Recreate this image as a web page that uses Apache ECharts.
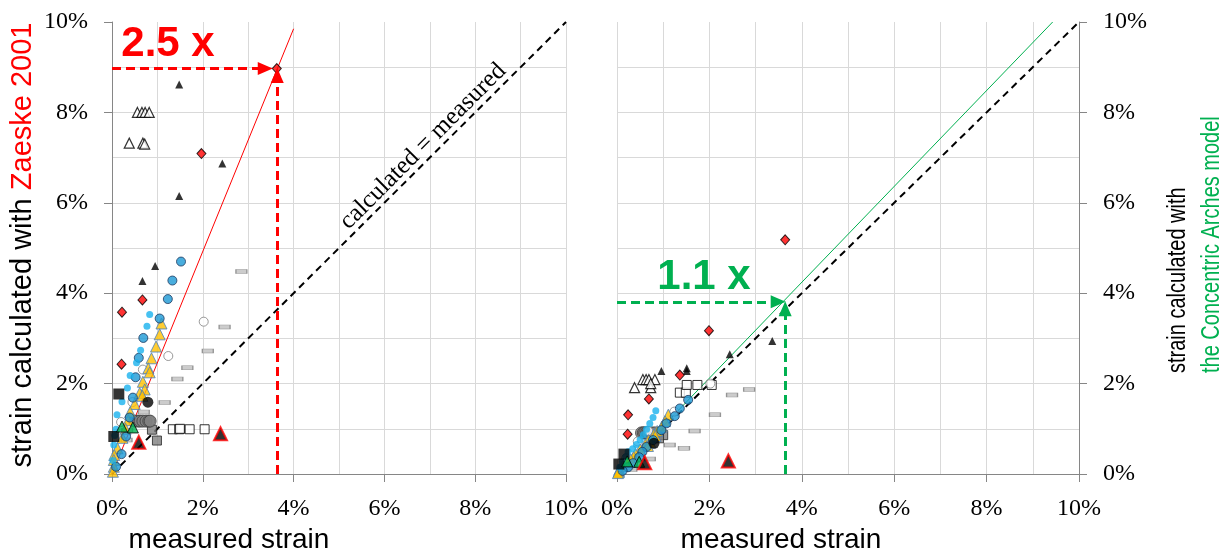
<!DOCTYPE html>
<html><head><meta charset="utf-8">
<script src="https://cdn.jsdelivr.net/npm/echarts@6/dist/echarts.min.js"></script>
<style>html,body{margin:0;padding:0;background:#fff}#c{width:1231px;height:555px}</style>
</head><body><div id="c"></div><script>
// ---------- axis ticks (percent) ----------
const axisMin = 0, axisMax = 10, tickStep = 2;
const tickLabelSuffix = '%';

// ---------- LEFT panel: Zaeske 2001 (x = measured %, y = calculated %) ----------
const zaeskeBlueCircle = [[1.52,4.70],[1.33,4.28],[1.23,3.87],[1.05,3.44],[0.69,3.01],[0.59,2.57],[0.52,2.14],[0.46,1.69],[0.39,1.25],[0.31,0.83],[0.21,0.44],[0.09,0.16]];
const zaeskeLightBlueDot = [[0.83,3.53],[0.77,3.27],[0.63,2.74],[0.54,2.46],[0.40,2.18],[0.34,1.90],[0.22,1.60],[0.11,1.31],[0.09,0.99],[0.06,0.85],[0.04,0.64],[0.02,0.30]];
const zaeskeYellowTriangle = [[1.09,3.33],[1.05,3.09],[0.97,2.82],[0.87,2.56],[0.80,2.34],[0.83,2.25],[0.68,2.04],[0.72,1.87],[0.61,1.79],[0.67,1.73],[0.50,1.55],[0.40,1.37],[0.36,1.19],[0.30,1.00],[0.23,0.80],[0.12,0.57],[0.05,0.42],[0.04,0.31],[0.04,0.16],[0.02,0.05]];
const zaeskeBlackTriangle = [[1.48,8.62],[2.43,6.87],[1.48,6.15],[0.95,4.60],[0.67,4.27]];
const zaeskeOpenTriangle = [[0.56,8.00],[0.66,8.00],[0.73,8.00],[0.82,8.00],[0.38,7.32],[0.68,7.32],[0.72,7.30]];
const zaeskeRedDiamond = [[3.63,8.97],[1.97,7.09],[0.67,3.85],[0.22,3.58],[0.21,2.43]];
const zaeskeGrayCircle = [[0.50,1.17],[0.57,1.17],[0.62,1.17],[0.68,1.17],[0.75,1.17],[0.81,1.17],[0.84,1.17]];
const zaeskeBlackCircle = [[0.79,1.59]];
const zaeskeOpenCircle = [[2.02,3.37],[1.24,2.61],[0.68,2.31],[0.45,1.59],[0.20,1.15]];
const zaeskeGrayDash = [[2.85,4.48],[2.48,3.25],[2.11,2.72],[1.66,2.35],[1.44,2.10],[1.16,1.58],[0.70,1.37],[0.33,0.97],[0.32,0.75]];
const zaeskeOpenSquare = [[1.34,0.99],[1.48,0.99],[1.50,1.00],[1.71,0.99],[2.04,0.99]];
const zaeskeGraySquare = [[0.88,0.98],[0.99,0.74]];
const zaeskeBlackSquare = [[0.15,1.77],[0.04,0.83]];
const zaeskeGreenTriangle = [[0.22,1.05],[0.46,1.03]];
const zaeskeRedBlackTriangle = [[2.39,0.89],[0.59,0.70]];

// ---------- RIGHT panel: Concentric Arches model ----------
const archesBlueCircle = [[1.54,1.64],[1.36,1.45],[1.25,1.28],[1.07,1.12],[0.96,0.97],[0.78,0.75],[0.64,0.60],[0.55,0.49],[0.48,0.37],[0.35,0.24],[0.24,0.15],[0.12,0.07]];
const archesLightBlueDot = [[0.84,1.40],[0.78,1.25],[0.71,1.12],[0.64,0.99],[0.57,0.87],[0.50,0.76],[0.42,0.65],[0.34,0.56],[0.24,0.49],[0.19,0.38],[0.12,0.27],[0.06,0.15]];
const archesYellowTriangle = [[1.11,1.31],[1.04,1.17],[0.97,1.05],[0.87,0.95],[0.80,0.88],[0.83,0.84],[0.68,0.75],[0.72,0.70],[0.61,0.66],[0.67,0.62],[0.50,0.55],[0.40,0.45],[0.36,0.38],[0.30,0.32],[0.23,0.27],[0.12,0.18],[0.05,0.10],[0.04,0.06],[0.04,0.04],[0.02,0.02]];
const archesBlackTriangle = [[3.36,2.94],[2.44,2.65],[1.51,2.34],[1.51,2.28],[0.96,2.28]];
const archesOpenTriangle = [[0.56,2.09],[0.63,2.09],[0.69,2.09],[0.82,2.09],[0.38,1.91],[0.73,1.91],[0.73,2.00]];
const archesRedDiamond = [[3.64,5.18],[1.99,3.17],[1.36,2.19],[0.69,1.66],[0.24,1.31],[0.23,0.88]];
const archesGrayCircle = [[0.53,0.91],[0.57,0.91],[0.60,0.91],[0.64,0.91],[0.67,0.91],[0.75,0.91],[0.82,0.91]];
const archesBlackCircle = [[0.80,0.68]];
const archesOpenCircle = [[2.02,2.00],[1.24,1.38],[0.68,0.95],[0.45,0.72],[0.20,0.35]];
const archesGrayDash = [[2.86,1.87],[2.49,1.75],[2.12,1.31],[1.68,0.95],[1.45,0.57],[1.14,0.64],[0.71,0.33],[0.33,0.15],[0.31,0.10]];
const archesOpenSquare = [[1.36,1.80],[1.49,1.80],[1.51,1.97],[1.74,1.97],[2.05,1.97]];
const archesGraySquare = [[1.00,0.86],[0.91,0.79]];
const archesBlackSquare = [[0.15,0.44],[0.04,0.22]];
const archesGreenTriangle = [[0.22,0.28],[0.48,0.27]];
const archesRedBlackTriangle = [[2.41,0.29],[0.60,0.25]];

// ---------- reference lines & annotations ----------
const equalityLine = [[0,0],[10,10]];
const zaeskeFitLine = [[0,0],[4.0,9.85]];
const archesFitLine = [[0,0],[9.43,10]];
const zaeskeArrowPoint = [3.64, 8.97];
const archesArrowPoint = [3.64, 3.81];
const zaeskeRatioText = '2.5 x';
const archesRatioText = '1.1 x';
const equalityText = 'calculated = measured';

// ---------- styles ----------
const RED = '#FF0000', GREEN = '#00B050';
const markerStyles = {
  grayDash:        {symbol:'rect', symbolSize:[11,4], itemStyle:{color:'#BFBFBF', borderColor:'#7F7F7F', borderWidth:0.8}},
  openSquare:      {symbol:'rect', symbolSize:9, itemStyle:{color:'#fff', borderColor:'#000', borderWidth:1}},
  graySquare:      {symbol:'rect', symbolSize:9, itemStyle:{color:'#7F7F7F', borderColor:'#262626', borderWidth:1}},
  grayCircle:      {symbol:'circle', symbolSize:12, itemStyle:{color:'#808080', borderColor:'#404040', borderWidth:1}},
  openCircle:      {symbol:'circle', symbolSize:9, itemStyle:{color:'#fff', borderColor:'#7F7F7F', borderWidth:1}},
  yellowTriangle:  {symbol:'triangle', symbolSize:11, itemStyle:{color:'#FFC000', borderColor:'#4A7EBB', borderWidth:1}},
  blueCircle:      {symbol:'circle', symbolSize:9, itemStyle:{color:'#1B98D5', borderColor:'#1F3A5F', borderWidth:1}},
  lightBlueDot:    {symbol:'circle', symbolSize:7, itemStyle:{color:'#19B2EE', borderWidth:0}},
  blackTriangle:   {symbol:'triangle', symbolSize:8, itemStyle:{color:'#000'}},
  openTriangle:    {symbol:'triangle', symbolSize:10, itemStyle:{color:'#fff', borderColor:'#000', borderWidth:1.2}},
  redDiamond:      {symbol:'diamond', symbolSize:[9,10], itemStyle:{color:RED, borderColor:'#000', borderWidth:1}},
  blackCircle:     {symbol:'circle', symbolSize:11, itemStyle:{color:'#000'}},
  blackSquare:     {symbol:'rect', symbolSize:11, itemStyle:{color:'#000'}},
  greenTriangle:   {symbol:'triangle', symbolSize:11, itemStyle:{color:GREEN, borderColor:'#000', borderWidth:1}},
  redBlackTriangle:{symbol:'triangle', symbolSize:13, itemStyle:{color:'#000', borderColor:RED, borderWidth:2}}
};
const panelData = [
  {grayDash:zaeskeGrayDash, openSquare:zaeskeOpenSquare, graySquare:zaeskeGraySquare, grayCircle:zaeskeGrayCircle, openCircle:zaeskeOpenCircle, yellowTriangle:zaeskeYellowTriangle, blueCircle:zaeskeBlueCircle, lightBlueDot:zaeskeLightBlueDot, blackTriangle:zaeskeBlackTriangle, openTriangle:zaeskeOpenTriangle, redDiamond:zaeskeRedDiamond, blackCircle:zaeskeBlackCircle, blackSquare:zaeskeBlackSquare, greenTriangle:zaeskeGreenTriangle, redBlackTriangle:zaeskeRedBlackTriangle},
  {grayDash:archesGrayDash, openSquare:archesOpenSquare, graySquare:archesGraySquare, grayCircle:archesGrayCircle, openCircle:archesOpenCircle, yellowTriangle:archesYellowTriangle, blueCircle:archesBlueCircle, lightBlueDot:archesLightBlueDot, blackTriangle:archesBlackTriangle, openTriangle:archesOpenTriangle, redDiamond:archesRedDiamond, blackCircle:archesBlackCircle, blackSquare:archesBlackSquare, greenTriangle:archesGreenTriangle, redBlackTriangle:archesRedBlackTriangle}
];
// arrow-head placement (half the head length, in px) and extra gap before the point
const ARROW_HALF_PX = 7;
const arrowGapPx = [{h:5, v:0}, {h:0, v:0}];

const SERIF = '"Liberation Serif","Times New Roman",serif';
const SANS = '"Liberation Sans",Arial,sans-serif';
const AXIS_COLOR = '#868686', GRID_COLOR = '#D9D9D9';
const GRIDS = [{left:112, top:22, width:454, height:452}, {left:617, top:22, width:462, height:452}];

function makeXAxis(gridIndex){
  return {type:'value', gridIndex, min:axisMin, max:axisMax, interval:tickStep,
    axisLine:{show:true, onZero:false, lineStyle:{color:AXIS_COLOR, width:1}},
    axisTick:{show:true, inside:false, length:8, lineStyle:{color:AXIS_COLOR}},
    axisLabel:{fontFamily:SERIF, fontSize:24, color:'#000', margin:23, formatter:v=>v+tickLabelSuffix},
    splitLine:{show:true, lineStyle:{color:GRID_COLOR, width:1}},
    minorTick:{show:false, splitNumber:2},
    minorSplitLine:{show:true, lineStyle:{color:GRID_COLOR, width:1}}};
}
function makeYAxis(gridIndex, position){
  return {type:'value', gridIndex, position, min:axisMin, max:axisMax, interval:tickStep,
    axisLine:{show:true, onZero:false, lineStyle:{color:AXIS_COLOR, width:1}},
    axisTick:{show:true, inside:false, length:8, lineStyle:{color:AXIS_COLOR}},
    axisLabel:{fontFamily:SERIF, fontSize:24, color:'#000', margin:24, formatter:v=>v+tickLabelSuffix},
    splitLine:{show:true, showMaxLine:false, lineStyle:{color:GRID_COLOR, width:1}},
    minorTick:{show:false, splitNumber:2},
    minorSplitLine:{show:true, lineStyle:{color:GRID_COLOR, width:1}}};
}

function buildSeries(){
  const series = [];
  [0,1].forEach(p=>{
    const fitColor = p===0 ? RED : GREEN;
    const fitData = p===0 ? zaeskeFitLine : archesFitLine;
    const pt = p===0 ? zaeskeArrowPoint : archesArrowPoint;
    // convert pixel gaps to data units through the grid scale
    const pxPerX = GRIDS[p].width/(axisMax-axisMin), pxPerY = GRIDS[p].height/(axisMax-axisMin);
    const hEnd = [pt[0] - (ARROW_HALF_PX + arrowGapPx[p].h)/pxPerX, pt[1]];
    const vEnd = [pt[0], pt[1] - (ARROW_HALF_PX + arrowGapPx[p].v)/pxPerY];
    series.push({type:'line', xAxisIndex:p, yAxisIndex:p, data:equalityLine, showSymbol:false, symbol:'none', silent:true,
      lineStyle:{color:'#000', width:2, type:[7,5]}, z:2});
    series.push({type:'line', xAxisIndex:p, yAxisIndex:p, data:fitData, showSymbol:false, symbol:'none', silent:true,
      lineStyle:{color:fitColor, width:1}, z:2,
      markLine:{silent:true, symbol:['none','triangle'], symbolSize:[13,15], animation:false,
        lineStyle:{color:fitColor, width:3, type:[9,5]}, label:{show:false},
        data:[
          [{coord:[axisMin, pt[1]]},{coord:hEnd}],
          [{coord:[pt[0], axisMin]},{coord:vEnd}]
        ]}});
    Object.keys(markerStyles).forEach(k=>{
      const st = markerStyles[k];
      series.push({type:'scatter', xAxisIndex:p, yAxisIndex:p, data:panelData[p][k], symbol:st.symbol, symbolSize:st.symbolSize,
        itemStyle:st.itemStyle, silent:true, z:3});
    });
  });
  return series;
}

const chart = echarts.init(document.getElementById('c'), null, {renderer:'canvas'});
chart.setOption({
  animation:false,
  backgroundColor:'#fff',
  grid:GRIDS,
  xAxis:[makeXAxis(0), makeXAxis(1)],
  yAxis:[makeYAxis(0,'left'), makeYAxis(1,'right')],
  series:buildSeries()
});

const eqP = chart.convertToPixel({xAxisIndex:0, yAxisIndex:0}, [6.85, 6.85]);
const zP = chart.convertToPixel({xAxisIndex:0, yAxisIndex:0}, [0, 10]);
const aP = chart.convertToPixel({xAxisIndex:1, yAxisIndex:1}, [0, archesArrowPoint[1]]);
chart.setOption({graphic:[
  {type:'text', x:23, y:245, rotation:Math.PI/2, style:{text:'{a|strain calculated with }{b|Zaeske 2001}', align:'center', verticalAlign:'middle',
    rich:{a:{fontFamily:SANS, fontSize:29, fill:'#000'}, b:{fontFamily:SANS, fontSize:29, fill:RED}}}},
  {type:'text', x:1178, y:373, rotation:Math.PI/2, scaleX:0.8, style:{text:'strain calculated with', align:'left', verticalAlign:'middle', fontFamily:SANS, fontSize:25, fill:'#000'}},
  {type:'text', x:1212, y:373, rotation:Math.PI/2, scaleX:0.8, style:{text:'the Concentric Arches model', align:'left', verticalAlign:'middle', fontFamily:SANS, fontSize:25, fill:GREEN}},
  {type:'text', x:229, y:540, style:{text:'measured strain', align:'center', verticalAlign:'middle', fontFamily:SANS, fontSize:28, fill:'#000'}},
  {type:'text', x:781, y:540, style:{text:'measured strain', align:'center', verticalAlign:'middle', fontFamily:SANS, fontSize:28, fill:'#000'}},
  {type:'text', x:zP[0]+56, y:zP[1]+22, style:{text:zaeskeRatioText, align:'center', verticalAlign:'middle', fontFamily:SANS, fontWeight:'bold', fontSize:42, fill:RED}},
  {type:'text', x:aP[0]+87, y:aP[1]-24, style:{text:archesRatioText, align:'center', verticalAlign:'middle', fontFamily:SANS, fontWeight:'bold', fontSize:42, fill:GREEN}},
  {type:'text', x:eqP[0], y:eqP[1]-18, rotation:Math.PI/4, style:{text:equalityText, align:'center', verticalAlign:'middle', fontFamily:SERIF, fontSize:25, fill:'#000'}}
]});
</script></body></html>
